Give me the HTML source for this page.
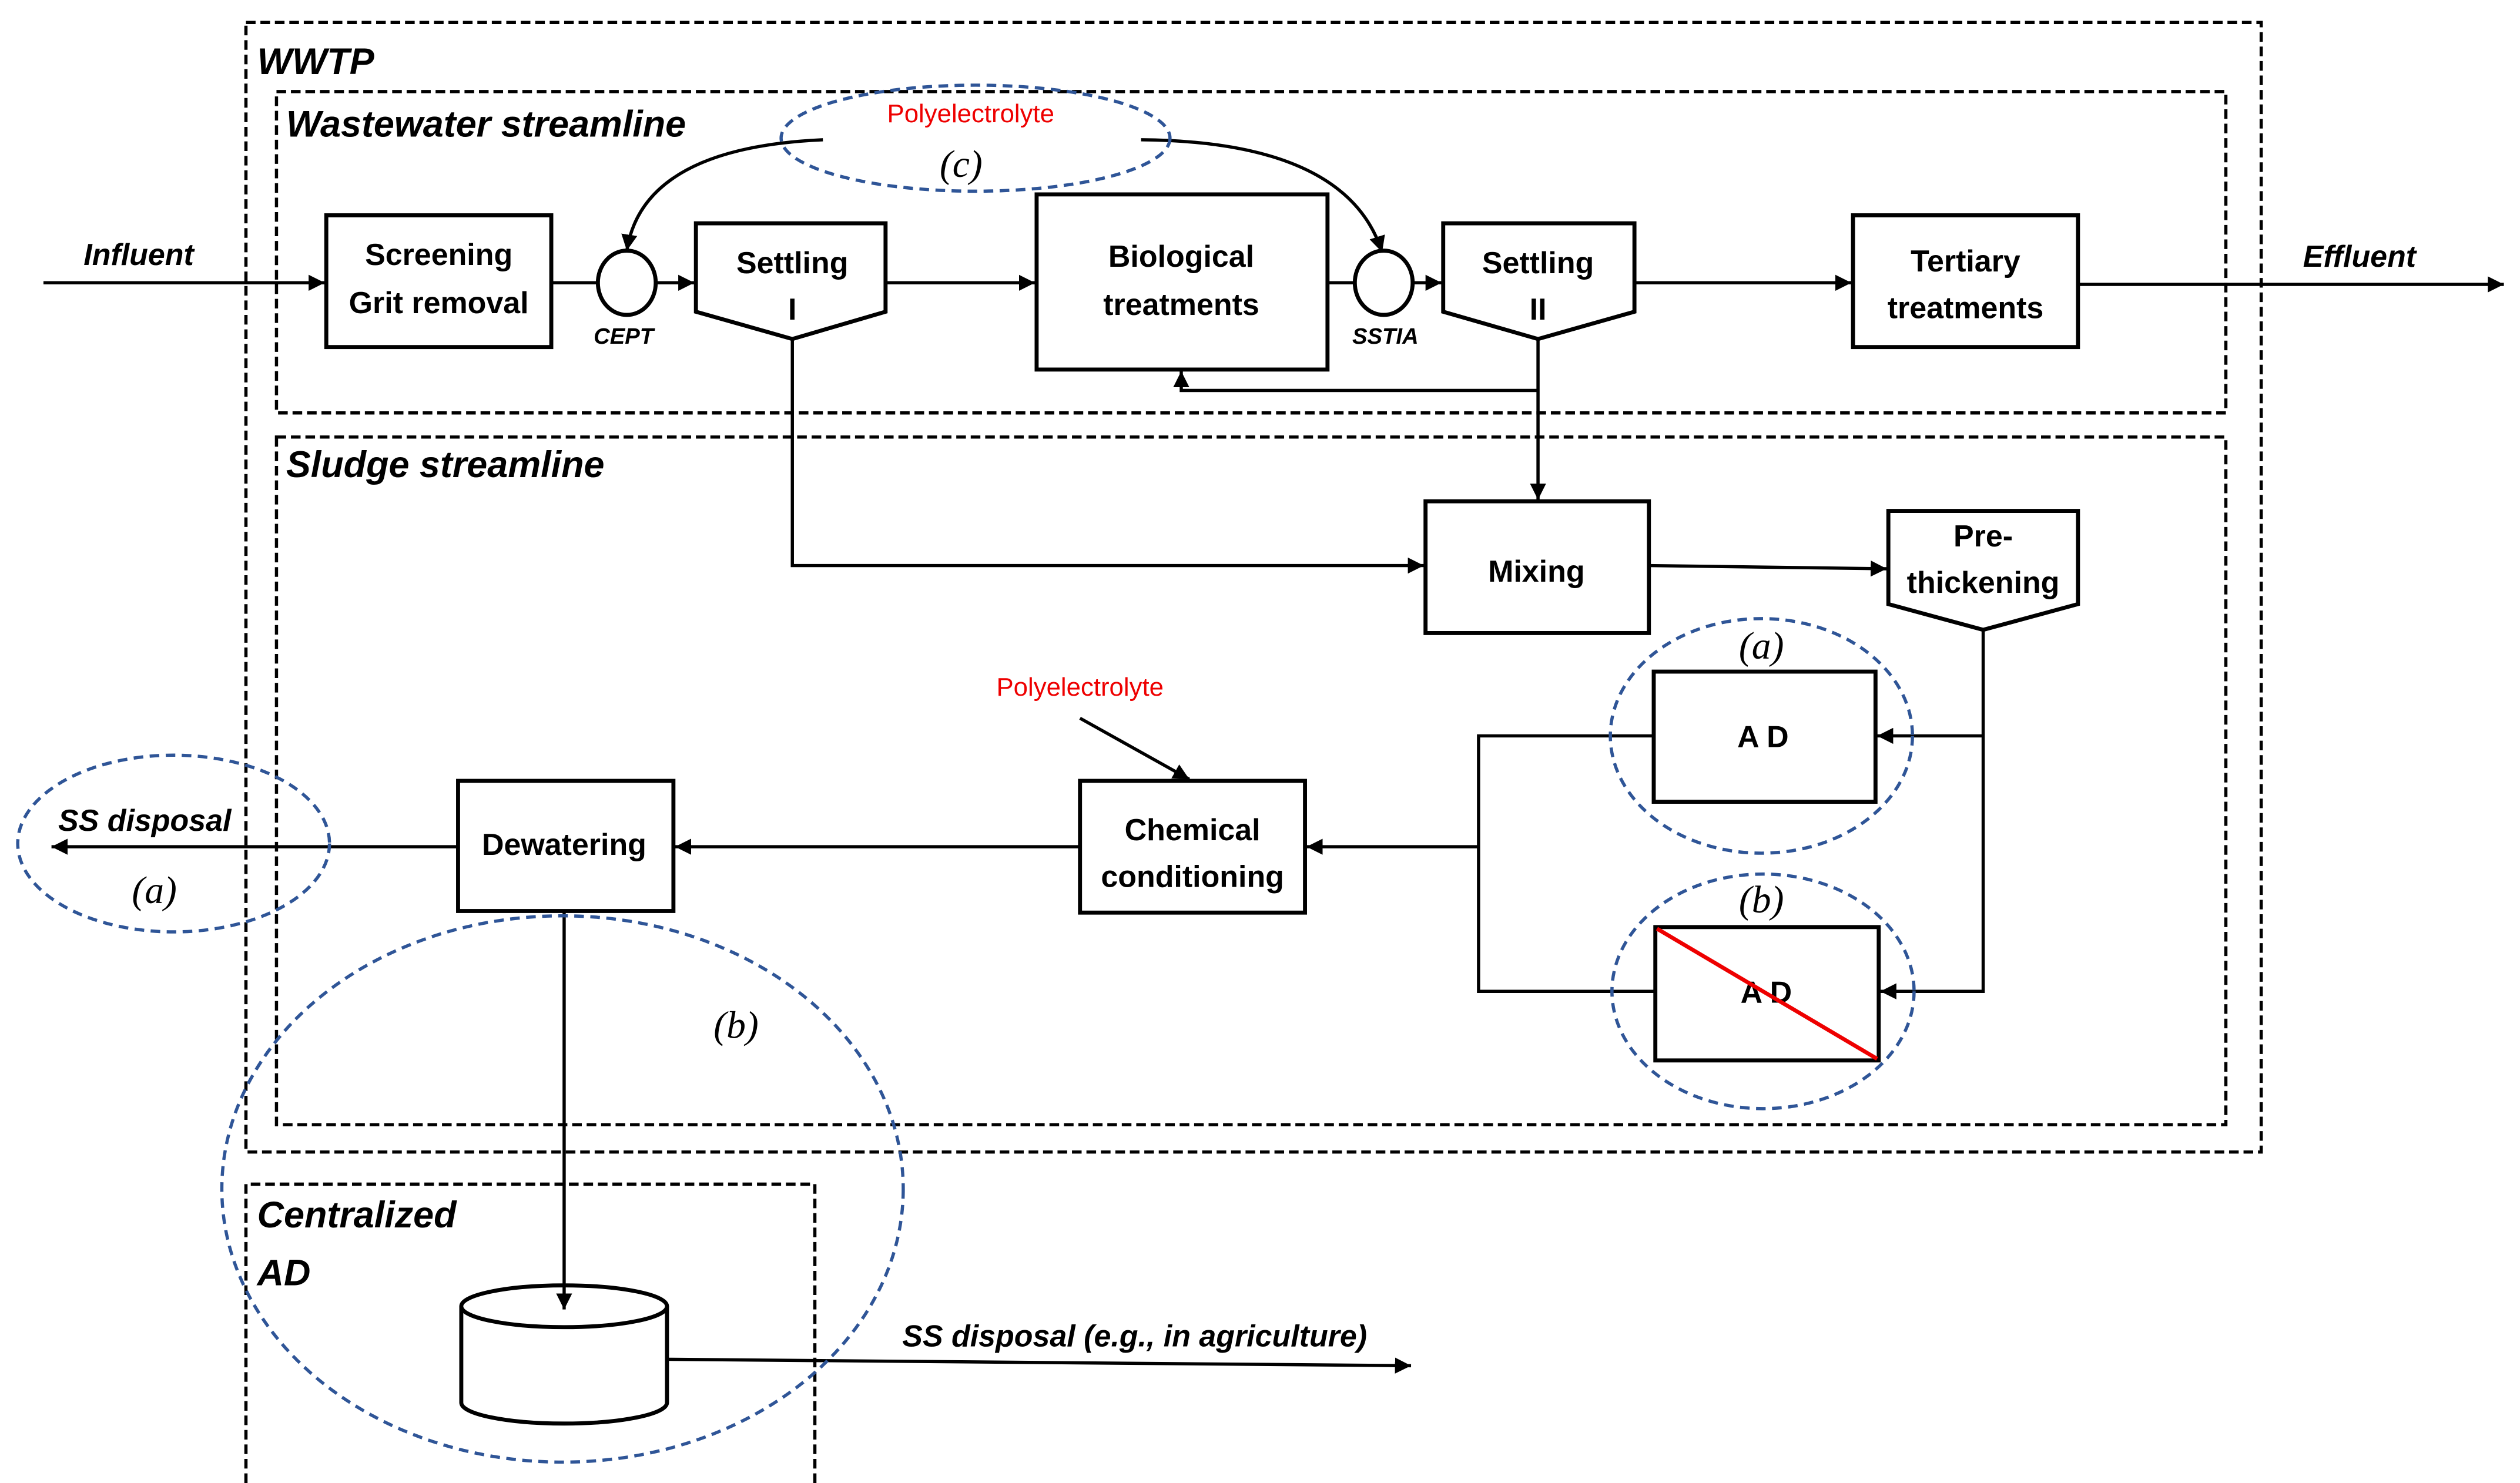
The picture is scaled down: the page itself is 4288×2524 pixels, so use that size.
<!DOCTYPE html>
<html><head><meta charset="utf-8"><style>html,body{margin:0;padding:0;background:#fff}svg{display:block}</style></head>
<body>
<svg xmlns="http://www.w3.org/2000/svg" width="4288" height="2524" viewBox="0 0 1568 923">
<defs>
<marker id="a" viewBox="0 0 10 10" refX="10" refY="5" markerWidth="5" markerHeight="5" orient="auto"><path d="M0,0L10,5L0,10z" fill="#000"/></marker>
</defs>
<rect width="1568" height="923" fill="#fff"/>
<g fill="none" stroke="#000" stroke-width="2" stroke-dasharray="6,3">
<rect x="153" y="14" width="1254" height="703"/>
<rect x="172" y="57" width="1213" height="200"/>
<rect x="172" y="272" width="1213" height="428"/>
<path d="M153,923V737H507V923"/>
</g>
<g font-family="Liberation Sans, sans-serif" font-weight="bold" font-style="italic" font-size="23" fill="#000">
<text x="160" y="46">WWTP</text>
<text x="178" y="85">Wastewater streamline</text>
<text x="178" y="297">Sludge streamline</text>
<text x="160" y="764">Centralized</text>
<text x="160" y="800">AD</text>
</g>
<g fill="none" stroke="#000" stroke-width="2">
<line x1="27" y1="176" x2="202" y2="176" marker-end="url(#a)"/>
<line x1="343" y1="176" x2="372" y2="176"/>
<line x1="408" y1="176" x2="432" y2="176" marker-end="url(#a)"/>
<line x1="551" y1="176" x2="644" y2="176" marker-end="url(#a)"/>
<line x1="826" y1="176" x2="843" y2="176"/>
<line x1="879" y1="176" x2="897" y2="176" marker-end="url(#a)"/>
<line x1="1017" y1="176" x2="1152" y2="176" marker-end="url(#a)"/>
<line x1="1293" y1="177" x2="1558" y2="177" marker-end="url(#a)"/>
<path d="M957,211V311" marker-end="url(#a)"/>
<path d="M957,243H735V231" marker-end="url(#a)"/>
<path d="M493,211V352H886" marker-end="url(#a)"/>
<path d="M1026,352L1174,354" marker-end="url(#a)"/>
<path d="M1234,392V617H1170" marker-end="url(#a)"/>
<path d="M1234,458H1168" marker-end="url(#a)"/>
<path d="M1029,458H920V617H1030"/>
<path d="M920,527H813" marker-end="url(#a)"/>
<path d="M672,447L740,485" marker-end="url(#a)"/>
<path d="M672,527H420" marker-end="url(#a)"/>
<path d="M285,527H32" marker-end="url(#a)"/>
<path d="M415,846L878,850" marker-end="url(#a)"/>
<path d="M512,87Q400,92 390,156" marker-end="url(#a)"/>
<path d="M710,87Q838,88 860,157" marker-end="url(#a)"/>
</g>
<g fill="#fff" stroke="#000" stroke-width="2.5">
<rect x="203" y="134" width="140" height="82"/>
<ellipse cx="390" cy="176" rx="18" ry="20"/>
<path d="M433,139H551V194L493,211L433,194Z"/>
<rect x="645" y="121" width="181" height="109"/>
<ellipse cx="861" cy="176" rx="18" ry="20"/>
<path d="M898,139H1017V194L957,211L898,194Z"/>
<rect x="1153" y="134" width="140" height="82"/>
<rect x="887" y="312" width="139" height="82"/>
<path d="M1175,318H1293V376L1234,392L1175,376Z"/>
<rect x="1029" y="418" width="138" height="81"/>
<rect x="1030" y="577" width="139" height="83"/>
<rect x="672" y="486" width="140" height="82"/>
<rect x="285" y="486" width="134" height="81"/>
<path d="M287,813V873A64,13 0 0 0 415,873V813"/>
<ellipse cx="351" cy="813" rx="64" ry="13"/>
</g>
<path d="M351,567V815" fill="none" stroke="#000" stroke-width="2" marker-end="url(#a)"/>
<g font-family="Liberation Sans, sans-serif" font-weight="bold" font-size="19" fill="#000" text-anchor="middle">
<text x="273" y="165">Screening</text>
<text x="273" y="195">Grit removal</text>
<text x="493" y="170">Settling</text>
<text x="493" y="199">I</text>
<text x="735" y="166">Biological</text>
<text x="735" y="196">treatments</text>
<text x="957" y="170">Settling</text>
<text x="957" y="199">II</text>
<text x="1223" y="169">Tertiary</text>
<text x="1223" y="198">treatments</text>
<text x="956" y="362">Mixing</text>
<text x="1234" y="340">Pre-</text>
<text x="1234" y="369">thickening</text>
<text x="1097" y="465">A D</text>
<text x="1099" y="624">A D</text>
<text x="742" y="523">Chemical</text>
<text x="742" y="552">conditioning</text>
<text x="351" y="532">Dewatering</text>
</g>
<line x1="1031" y1="578" x2="1168" y2="659" stroke="#e00" stroke-width="2.5"/>
<g font-family="Liberation Sans, sans-serif" font-weight="bold" font-style="italic" fill="#000">
<text x="52" y="165" font-size="19">Influent</text>
<text x="1433" y="166" font-size="19">Effluent</text>
<text x="388" y="214" font-size="14" text-anchor="middle">CEPT</text>
<text x="862" y="214" font-size="14" text-anchor="middle">SSTIA</text>
<text x="90" y="517" font-size="19" text-anchor="middle">SS disposal</text>
<text x="706" y="838" font-size="19" text-anchor="middle">SS disposal (e.g., in agriculture)</text>
</g>
<g font-family="Liberation Serif, serif" font-style="italic" font-size="24" fill="#000" text-anchor="middle">
<text x="598" y="110">(c)</text>
<text x="1096" y="410">(a)</text>
<text x="1096" y="568">(b)</text>
<text x="96" y="562">(a)</text>
<text x="458" y="646">(b)</text>
</g>
<g font-family="Liberation Sans, sans-serif" font-size="16" fill="#e00" text-anchor="middle">
<text x="604" y="76">Polyelectrolyte</text>
<text x="672" y="433">Polyelectrolyte</text>
</g>
<g fill="none" stroke="#2f5597" stroke-width="2" stroke-dasharray="6,4">
<ellipse cx="607" cy="86" rx="121" ry="33"/>
<ellipse cx="1096" cy="458" rx="94" ry="73"/>
<ellipse cx="1097" cy="617" rx="94" ry="73"/>
<ellipse cx="108" cy="525" rx="97" ry="55"/>
<ellipse cx="350" cy="740" rx="212" ry="170"/>
</g>
</svg>
</body></html>
